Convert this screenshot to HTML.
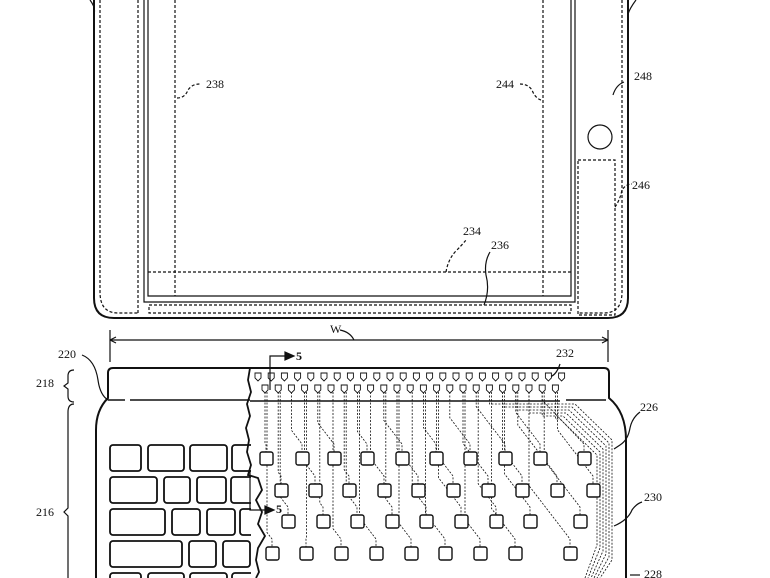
<!DOCTYPE html>
<html><head><meta charset="utf-8"><style>
html,body{margin:0;padding:0;background:#fff;width:770px;height:578px;overflow:hidden}
svg{display:block}
text{font-family:"Liberation Serif",serif;font-size:12px;fill:#111}
</style></head><body>
<svg id="s" width="770" height="578" viewBox="0 0 770 578" xmlns="http://www.w3.org/2000/svg">
<g fill="none" stroke="#111" stroke-width="1.2">
<path d="M94 0 V298 Q94 318 114 318 H608 Q628 318 628 298 V0" stroke-width="2"/>
<path d="M100 0 V292 Q100 313 118 313 H138" stroke-dasharray="3,2"/>
<path d="M622 0 V292 Q622 313 604 313 H578" stroke-dasharray="3,2"/>
<line x1="138" y1="0" x2="138" y2="313" stroke-dasharray="3,2"/>
<path d="M144 0 V302 H575 V0"/>
<path d="M148 0 V296 H571 V0"/>
<line x1="175" y1="0" x2="175" y2="296" stroke-dasharray="3,2"/>
<line x1="543" y1="0" x2="543" y2="296" stroke-dasharray="3,2"/>
<line x1="148" y1="272" x2="571" y2="272" stroke-dasharray="3,2"/>
<rect x="149" y="305" width="422" height="8" stroke-dasharray="3,2"/>
<rect x="578" y="160" width="37" height="155" stroke-dasharray="3,2"/>
<circle cx="600" cy="137" r="12"/>
<path d="M90 0 Q96 8 94 14" /><path d="M636 0 Q630 8 628 14"/>
<path d="M177 98 Q185 98 188 90 Q192 84 200 84" stroke-dasharray="3,2"/>
<path d="M541 100 Q535 98 532 90 Q528 84 520 84" stroke-dasharray="3,2"/>
<path d="M613 95 Q616 85 624 82"/>
<path d="M615 207 Q620 200 622 190 Q626 184 632 184" stroke-dasharray="3,2"/>
<path d="M446 272 Q448 260 455 252 Q462 245 466 240" stroke-dasharray="3,2"/>
<path d="M484 305 Q490 290 486 275 Q484 262 490 252"/>
<line x1="110" y1="330" x2="110" y2="362"/><line x1="608" y1="330" x2="608" y2="362"/>
<line x1="110" y1="340" x2="608" y2="340"/>
<path d="M110 340 l6 -3 M110 340 l6 3 M608 340 l-6 -3 M608 340 l-6 3"/>
<path d="M340 330 Q350 332 354 340"/>
<path d="M250 368 H113 Q108 368 108 373 V398 Q96 410 96 430 V578" stroke-width="2"/>
<path d="M250 368 H604 Q609 368 609 373 V398 Q626 412 626 440 V578" stroke-width="2"/>
<path d="M108 400 H125 M130 400 H250" stroke-width="1.6"/>
<path d="M566 400 H606" stroke-width="1.6"/>
<line x1="250" y1="401" x2="560" y2="401" stroke-width="1.4"/>
<path d="M82 355 Q95 360 98 380 Q100 395 108 400"/>
<path d="M74 370 Q68 370 68 376 V383 L64 386 L68 389 V396 Q68 402 74 402"/>
<path d="M74 404 Q68 404 68 412 V508 L64 512 L68 516 V578"/>
<path d="M549 377 Q556 376 560 364"/>
<path d="M614 449 L620 445 Q628 440 630 428 Q632 418 640 412"/>
<path d="M614 526 Q628 520 632 510 Q636 504 642 502"/>
<path d="M630 575 H640"/>
</g>
<g id="keys" fill="none" stroke="#111" stroke-width="1.8"></g>
<rect x="251" y="402" width="20" height="176" fill="#fff"/>
<g id="trace" fill="none" stroke="#111" stroke-width="0.8" stroke-dasharray="2,1.5"></g>
<g id="sq" fill="#fff" stroke="#111" stroke-width="1.4"></g>
<g fill="none" stroke="#111" stroke-width="1.2">
<path d="M250 368 L248 380 L251 392 L247 404 L250 416 L246 428 L249 440 L247 452 L251 465 L248 475 L258 478 L262 490 L256 500 L262 512 L258 524 L265 536 L258 548 L256 560 L259 572 L256 578" stroke-width="1.8"/>
<path d="M270 390 V356 H285"/><path d="M285 352 L294 356 L285 360Z" fill="#111"/>
<path d="M250 470 V510 H265"/><path d="M265 506 L274 510 L265 514Z" fill="#111"/>
</g>
<text x="206" y="88">238</text>
<text x="496" y="88">244</text>
<text x="634" y="80">248</text>
<text x="632" y="189">246</text>
<text x="463" y="235">234</text>
<text x="491" y="249">236</text>
<text x="330" y="333">W</text>
<text x="58" y="358">220</text>
<text x="36" y="387">218</text>
<text x="36" y="516">216</text>
<text x="296" y="360" font-weight="bold">5</text>
<text x="276" y="513" font-weight="bold">5</text>
<text x="556" y="357">232</text>
<text x="640" y="411">226</text>
<text x="644" y="501">230</text>
<text x="644" y="578">228</text>
</svg>
<script>
var NS="http://www.w3.org/2000/svg";
function el(g,t,a){var e=document.createElementNS(NS,t);for(var k in a)e.setAttribute(k,a[k]);document.getElementById(g).appendChild(e);return e;}
var rows=[[445,[[110,141],[148,184],[190,227],[232,262]]],[477,[[110,157],[164,190],[197,226],[231,262]]],[509,[[110,165],[172,200],[207,235],[240,262]]],[541,[[110,182],[189,216],[223,250]]],[573,[[110,141],[148,184],[190,227],[232,262]]]];
rows.forEach(function(r){r[1].forEach(function(k){el("keys","rect",{x:k[0],y:r[0],width:k[1]-k[0],height:26,rx:3});});});
var pads=[];
for(var i=0;i<24;i++){var x=258+i*13.2;el("sq","path",{d:"M"+(x-3)+" 373 h6 v5 l-3 3 l-3 -3z","stroke-width":"0.9"});}
for(var i=0;i<23;i++){var x=265+i*13.2;pads.push(x);el("sq","path",{d:"M"+(x-3)+" 385 h6 v5 l-3 3 l-3 -3z","stroke-width":"0.9"});}
var sr=[[458,[266,302,334,367,402,436,470,505,540,584]],[490,[281,315,349,384,418,453,488,522,557,593]],[521,[288,323,357,392,426,461,496,530,580]],[553,[272,306,341,376,411,445,480,515,570]]];
var all=[];sr.forEach(function(r){r[1].forEach(function(x){all.push([x,r[0]]);});});
all.sort(function(a,b){return a[0]-b[0];});
var n=all.length;
all.forEach(function(s,i){var p=pads[Math.min(22,Math.floor(i*23/n))]+((i%2)*2);
var end=s[1]-14, dx=Math.abs(s[0]-p);
var my=Math.max(400+(i%4)*4,end-dx*1.3);
el("trace","path",{d:"M"+p+" 392 V"+my+" L"+s[0]+" "+end+" V"+(s[1]-6)});});
for(var j=0;j<6;j++){var p=pads[17+j];var o=j*3;el("trace","path",{d:"M"+p+" 392 V"+(404+o)+" H"+(575-o)+" L"+(612-o)+" "+(440+o)+" V"+(560-o)+" L"+(600-o)+" 578"});}
all.forEach(function(s){el("sq","rect",{x:s[0]-6,y:s[1]-6,width:13,height:13,rx:2});});
</script>
</body></html>
